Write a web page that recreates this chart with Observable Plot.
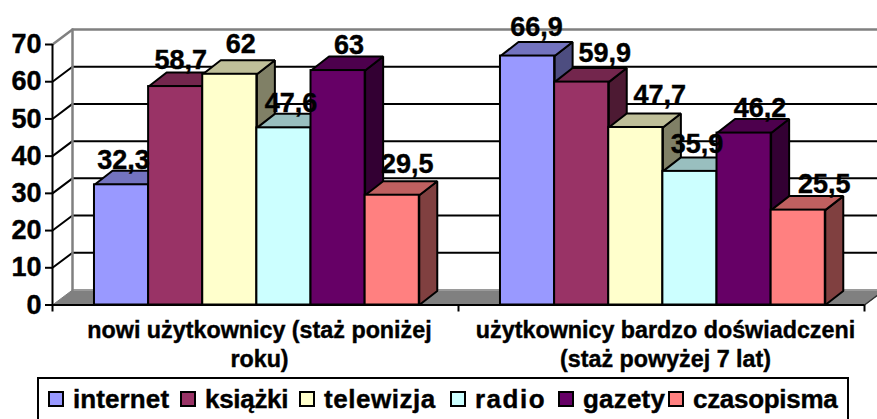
<!DOCTYPE html>
<html lang="pl">
<head>
<meta charset="utf-8">
<script src="https://cdn.jsdelivr.net/npm/d3@7"></script>
<script src="https://cdn.jsdelivr.net/npm/@observablehq/plot@0.6"></script>
<style>
  html, body { margin: 0; padding: 0; background: #fff; overflow: hidden; width: 877px; height: 419px; }
  #chart svg { display: block; }
  #chart text { stroke: #000; stroke-width: .4px; }
  .legend { box-sizing: border-box; margin: 0 0 0 37px; width: 812px; height: 60px; border: 2px solid #000;
    display: flex; padding: 5px 0 0 9px; font: bold 26px "Liberation Sans", Arial, sans-serif; color: #000; -webkit-text-stroke: .4px #000; }
  .item { display: flex; align-items: center; height: 30px; white-space: nowrap; flex: none; }
  .sw { width: 12px; height: 12px; border: 2px solid #000; margin-right: 9px; flex: none; }
</style>
</head>
<body>
<div id="chart"></div>
<div class="legend" id="legend"></div>
<script>
const categories = ["nowi użytkownicy (staż poniżej\nroku)", "użytkownicy bardzo doświadczeni\n(staż powyżej 7 lat)"];
const seriesNames = ["internet", "książki", "telewizja", "radio", "gazety", "czasopisma"];
const newUsers = [32.3, 58.7, 62, 47.6, 63, 29.5];
const veteranUsers = [66.9, 59.9, 47.7, 35.9, 46.2, 25.5];
const groups = [newUsers, veteranUsers];
const yTicks = [0, 10, 20, 30, 40, 50, 60, 70];

// styles per series: front, top and side faces
const frontColors = ["#9999FF", "#993366", "#FFFFCC", "#CCFFFF", "#660066", "#FF8080"];
const topColors   = ["#7373BF", "#73264D", "#BFBF99", "#99BFBF", "#4D004D", "#BF6060"];
const sideColors  = ["#4D4D80", "#4D1A33", "#808066", "#668080", "#330033", "#804040"];

// hand-placed data label nudges of the original, in pixels
const labelDx = [[2, 5, 11, 7, 11, 15], [9, 23, 24, 7, 16, 26]];
const labelDy = [[-16, -18, -21, -16, -17, -22], [-20, -20, -23, -18, -16, -17]];

// legend layout: width of each entry and its letter spacing, in pixels
const legendWidths = [132, 119, 151, 108, 110, 180];
const legendSpacing = [0.1, -0.3, 0.55, 1.5, 0.2, -0.3];

const font = '"Liberation Sans", Arial, sans-serif';
const GRAY = "#808080";
const yMax = 70;

// projection depth in data units
const wallDX = 20 / 406, wallDY = 15 / 3.72;
const barDX = 18 / 406, barDY = 14 / 3.72;
const groupPad = 0.1034, barW = 0.13333;

const poly = (pts, fill, stroke, strokeWidth = 2) =>
  Plot.line([...pts, pts[0]], {x: "0", y: "1", fill, stroke, strokeWidth, strokeLinejoin: "miter", curve: "linear"});
const path = (pts, stroke, strokeWidth = 2) =>
  Plot.line(pts, {x: "0", y: "1", stroke, strokeWidth, curve: "linear"});

const marks = [];

// floor
marks.push(poly([[0, 0], [wallDX, wallDY], [2 + wallDX, wallDY], [2, 0]], GRAY, GRAY, 1));
marks.push(path([[wallDX, wallDY], [2 + wallDX, wallDY]], "#9a9a9a", 2));

// wall gridlines
for (const t of yTicks.slice(1, -1)) {
  marks.push(path([[0, t], [wallDX, t + wallDY], [2 + wallDX, t + wallDY]], "#000"));
}
// wall outline
marks.push(path([[0, yMax], [wallDX, yMax + wallDY], [2 + wallDX, yMax + wallDY]], GRAY, 2.5));
marks.push(path([[wallDX, yMax + wallDY], [wallDX, wallDY]], GRAY, 2.5));
marks.push(path([[2, 0], [2 + wallDX, wallDY]], "#333", 1.5));

// bars, left to right so that each front hides its neighbour's side
groups.forEach((vals, g) => {
  vals.forEach((v, i) => {
    const x1 = g + groupPad + i * barW, x2 = x1 + barW;
    marks.push(poly([[x2, 0], [x2 + barDX, barDY], [x2 + barDX, v + barDY], [x2, v]], sideColors[i], "#000"));
    marks.push(poly([[x1, v], [x2, v], [x2 + barDX, v + barDY], [x1 + barDX, v + barDY]], topColors[i], "#000"));
    marks.push(Plot.rect([v], {x1: () => x1, x2: () => x2, y1: 0, y2: d => d, fill: frontColors[i], stroke: "#000", strokeWidth: 2, inset: 0}));
  });
});

// axes
marks.push(Plot.ruleX([0], {y1: 0, y2: yMax, stroke: "#000", strokeWidth: 2}));
marks.push(Plot.ruleY([0], {x1: 0, x2: 2, stroke: "#000", strokeWidth: 2}));
marks.push(Plot.axisY({ticks: yTicks, tickSize: 7, tickPadding: 4, fontSize: 27, fontWeight: "bold", fontFamily: font, strokeWidth: 2, label: null}));
marks.push(Plot.axisX({ticks: [0, 1, 2], tickSize: 7, tickFormat: () => "", strokeWidth: 2, label: null}));

// data labels
groups.forEach((vals, g) => {
  vals.forEach((v, i) => {
    marks.push(Plot.text([v], {
      x: () => g + groupPad + (i + 0.5) * barW, y: d => d,
      text: d => String(d).replace(".", ","),
      dx: labelDx[g][i], dy: labelDy[g][i],
      lineAnchor: "bottom", fontSize: 27, fontWeight: "bold", fontFamily: font, fill: "#000"
    }));
  });
});

// category labels
marks.push(Plot.text(categories, {
  x: (d, i) => i + 0.5, y: () => 0, text: d => d, dy: 13, dx: 4,
  lineAnchor: "top", lineHeight: 1.22, fontSize: 23.3, fontWeight: "bold", fontFamily: font, fill: "#000"
}));

const chart = Plot.plot({
  width: 877, height: 377,
  marginLeft: 52, marginRight: 13, marginTop: 44, marginBottom: 72.5,
  x: {type: "linear", domain: [0, 2], axis: null},
  y: {type: "linear", domain: [0, yMax], axis: null},
  style: {background: "#fff", color: "#000", fontFamily: font},
  marks
});
document.getElementById("chart").append(chart);

const legend = d3.select("#legend");
seriesNames.forEach((name, i) => {
  const item = legend.append("div").attr("class", "item")
    .style("width", legendWidths[i] + "px").style("letter-spacing", legendSpacing[i] + "px");
  item.append("span").attr("class", "sw").style("background", frontColors[i]);
  item.append("span").text(name);
});
</script>
</body>
</html>
